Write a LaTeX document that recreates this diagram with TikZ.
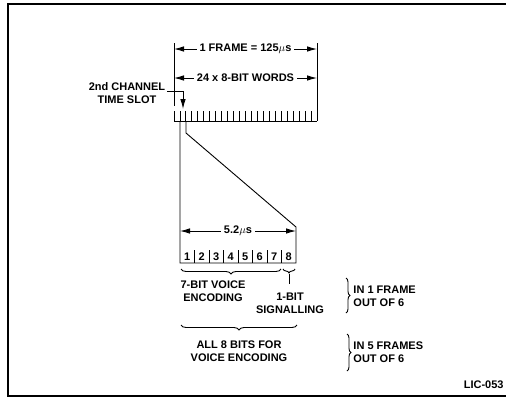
\documentclass[tikz,border=0pt]{standalone}
\usepackage{fontspec}
\setmainfont{Liberation Sans}
\usetikzlibrary{positioning,arrows.meta,decorations.pathreplacing}

\begin{document}
\begin{tikzpicture}[x=1pt,y=-1pt,>={Latex[length=10pt,width=5.5pt]},line width=0.9pt,
  font=\fontsize{11}{13}\selectfont\bfseries,
  lbl/.style={align=center,inner sep=0pt},
  dimtxt/.style={fill=white,inner sep=3pt},
  brc/.style={decorate,decoration={brace,amplitude=5pt}}]
  \useasboundingbox (0,0) rectangle (506,397);
  \draw[line width=1.5pt] (506,4) -- (8,4) -- (8,396) -- (506,396);
  \coordinate (fl) at (174,49);
  \coordinate (fr) at (317,49);
  \coordinate (wl) at (174,78);
  \coordinate (wr) at (317,78);
  \draw (174,43) -- (174,106);
  \draw (317,43) -- (317,111);
  \draw[<->] (fl) -- node[dimtxt]{1 FRAME = 125$\mu$s} (fr);
  \draw[<->] (wl) -- node[dimtxt]{24 x 8-BIT WORDS} (wr);
  \foreach \i in {0,...,24} \draw (174+\i*5.96,111) -- (174+\i*5.96,121);
  \draw (174,121) -- (317,121);
  \node[lbl] (slot) at (127,93) {2nd CHANNEL\\TIME SLOT};
  \coordinate (ld) at (167,91);
  \coordinate (sa) at (183,109);
  \draw[->] (ld) -| (sa);
  \coordinate (s1) at (180,121);
  \coordinate (s2) at (186,121);
  \coordinate (kn) at (186,133);
  \coordinate (b0) at (180,263);
  \coordinate (b8) at (296,263);
  \coordinate (t8) at (296,227);
  \draw (s1) -- (b0) -- (b8) -- (t8) -- (kn) -- (s2);
  \foreach \i in {1,...,7} \draw (180+\i*14.5,250) -- (180+\i*14.5,263);
  \foreach \i in {1,...,8} \node[lbl] (d\i) at (180+\i*14.5-7.25,257) {\i};
  \coordinate (cl) at (180,231);
  \coordinate (cr) at (296,231);
  \draw[<->] (cl) -- node[dimtxt]{5.2$\mu$s} (cr);
  \draw[brc,decoration={mirror}] (181,269) -- (281,269);
  \draw[brc,decoration={mirror,amplitude=4pt}] (283,269) -- (295,269);
  \coordinate (b8tip) at (289,274);
  \coordinate (sigtop) at (289,284);
  \draw (b8tip) -- (sigtop);
  \node[lbl] (voice) at (213,291) {7-BIT VOICE\\ENCODING};
  \node[lbl] (sig) at (290,303) {1-BIT\\SIGNALLING};
  \draw[brc,decoration={mirror}] (181,325) -- (297,325);
  \node[lbl] (all8) at (239,351) {ALL 8 BITS FOR\\VOICE ENCODING};
  \draw[brc,decoration={amplitude=4pt}] (346,278) -- (346,313);
  \draw[brc,decoration={amplitude=4pt}] (347,334) -- (347,371);
  \node[lbl,anchor=west,align=left] (one) at (353,296) {IN 1 FRAME\\OUT OF 6};
  \node[lbl,anchor=west,align=left] (five) at (353,352) {IN 5 FRAMES\\OUT OF 6};
  \node[lbl,anchor=east] (lic) at (504,385) {LIC-053};
\end{tikzpicture}
\end{document}
